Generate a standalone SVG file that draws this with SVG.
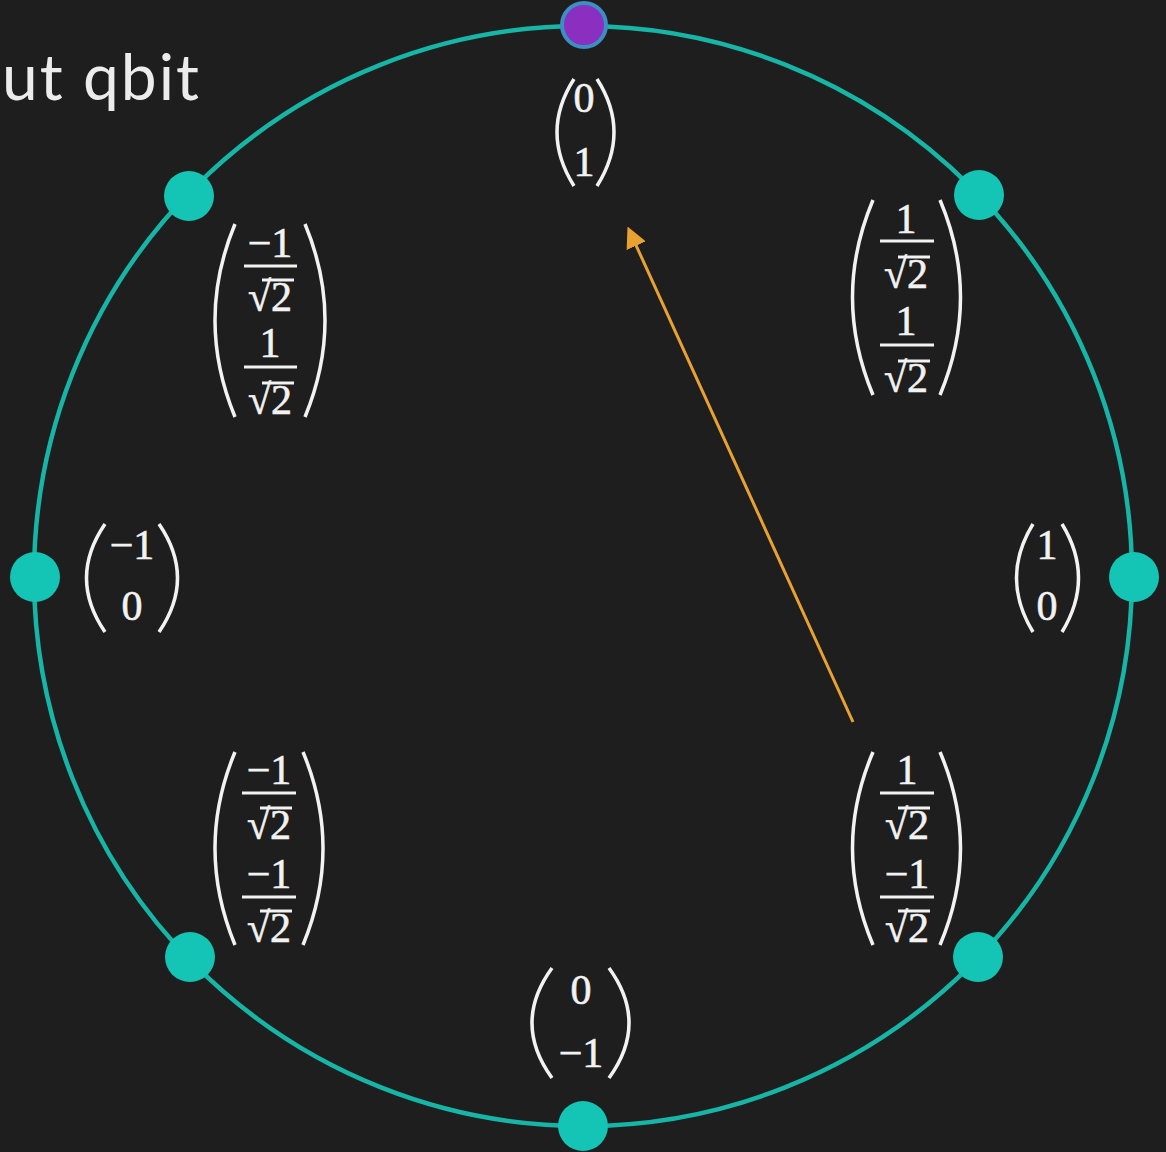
<svg xmlns="http://www.w3.org/2000/svg" width="1166" height="1152" viewBox="0 0 1166 1152">
<defs>
<style>
.num{font-family:"Liberation Serif","DejaVu Serif",serif;fill:#f2f2f2;stroke:#f2f2f2;stroke-width:0.6;text-anchor:middle}
.sm{font-size:42px}
.fr{font-size:42px}
.par{fill:none;stroke:#f2f2f2;stroke-width:3.5}
.bar{stroke:#f2f2f2;stroke-width:3}
.node{fill:#14c4b4}
.title{font-family:"Lato","Inter","Liberation Sans",sans-serif;font-size:64px;fill:#ececec;letter-spacing:2px}
</style>
<marker id="ah" markerWidth="7" markerHeight="7" refX="5" refY="3.5" orient="auto" markerUnits="strokeWidth">
<path d="M0,0 L7,3.5 L0,7 z" fill="#e9a232"/>
</marker>
</defs>
<rect width="1166" height="1152" fill="#1e1e1e"/>
<text class="title" x="2" y="100">ut qbit</text>
<g id="circle"><ellipse cx="583" cy="576" rx="549" ry="550" fill="none" stroke="#17b5a5" stroke-width="4.5"/></g>
<g id="connectors"><line x1="853" y1="722" x2="630" y2="232" stroke="#e9a232" stroke-width="3" marker-end="url(#ah)"/></g>
<g id="n-top"><circle cx="584" cy="25" r="22" fill="#8b2fc0" stroke="#3b8fc2" stroke-width="4"/></g>
<g id="n-ul"><circle class="node" cx="189" cy="196" r="25"/></g>
<g id="n-ur"><circle class="node" cx="979" cy="195" r="25"/></g>
<g id="n-l"><circle class="node" cx="35" cy="577" r="25"/></g>
<g id="n-r"><circle class="node" cx="1134" cy="577" r="25"/></g>
<g id="n-ll"><circle class="node" cx="190" cy="957" r="25"/></g>
<g id="n-lr"><circle class="node" cx="978" cy="957" r="25"/></g>
<g id="n-b"><circle class="node" cx="583" cy="1126" r="25"/></g>

<g id="m-top">
<path class="par" d="M574,79 Q540,132 574,186"/>
<path class="par" d="M597,79 Q631,132 597,186"/>
<text class="num sm" x="584" y="112">0</text>
<text class="num sm" x="584" y="176">1</text>
</g>
<g id="m-r">
<path class="par" d="M1033,524 Q1000,578 1033,632"/>
<path class="par" d="M1062,524 Q1095,578 1062,632"/>
<text class="num sm" x="1047" y="559">1</text>
<text class="num sm" x="1047" y="620">0</text>
</g>
<g id="m-l">
<path class="par" d="M105,524 Q68,578 105,632"/>
<path class="par" d="M159,524 Q196,578 159,632"/>
<text class="num sm" x="132" y="559">−1</text>
<text class="num sm" x="132" y="620">0</text>
</g>
<g id="m-b">
<path class="par" d="M552,968 Q512,1023 552,1078"/>
<path class="par" d="M609,968 Q649,1023 609,1078"/>
<text class="num sm" x="581" y="1004">0</text>
<text class="num sm" x="581" y="1067">−1</text>
</g>

<g id="m-ul">
<path class="par" d="M235,224 Q195,320 235,417"/>
<path class="par" d="M305,224 Q345,320 305,417"/>
<text class="num fr" x="270" y="257">−1</text>
<line class="bar" x1="244" y1="266" x2="297" y2="266"/>
<text class="num fr" x="270" y="311">√2</text>
<line class="bar" x1="262" y1="280" x2="294" y2="280"/>
<text class="num fr" x="270" y="357">1</text>
<line class="bar" x1="244" y1="367" x2="297" y2="367"/>
<text class="num fr" x="270" y="414">√2</text>
<line class="bar" x1="262" y1="383" x2="294" y2="383"/>
</g>
<g id="m-ur">
<path class="par" d="M873,200 Q832,297 873,395"/>
<path class="par" d="M940,200 Q981,297 940,395"/>
<text class="num fr" x="906" y="233">1</text>
<line class="bar" x1="880" y1="241" x2="934" y2="241"/>
<text class="num fr" x="906" y="288">√2</text>
<line class="bar" x1="898" y1="257" x2="930" y2="257"/>
<text class="num fr" x="906" y="335">1</text>
<line class="bar" x1="880" y1="345" x2="934" y2="345"/>
<text class="num fr" x="906" y="392">√2</text>
<line class="bar" x1="898" y1="361" x2="930" y2="361"/>
</g>
<g id="m-ll">
<path class="par" d="M235,752 Q195,848 235,945"/>
<path class="par" d="M303,752 Q343,848 303,945"/>
<text class="num fr" x="269" y="784">−1</text>
<line class="bar" x1="242" y1="793" x2="296" y2="793"/>
<text class="num fr" x="269" y="839">√2</text>
<line class="bar" x1="260" y1="808" x2="292" y2="808"/>
<text class="num fr" x="269" y="888">−1</text>
<line class="bar" x1="242" y1="897" x2="296" y2="897"/>
<text class="num fr" x="269" y="942">√2</text>
<line class="bar" x1="260" y1="911" x2="292" y2="911"/>
</g>
<g id="m-lr">
<path class="par" d="M873,752 Q832,848 873,945"/>
<path class="par" d="M940,752 Q981,848 940,945"/>
<text class="num fr" x="907" y="784">1</text>
<line class="bar" x1="880" y1="793" x2="934" y2="793"/>
<text class="num fr" x="907" y="839">√2</text>
<line class="bar" x1="898" y1="808" x2="930" y2="808"/>
<text class="num fr" x="907" y="888">−1</text>
<line class="bar" x1="880" y1="897" x2="934" y2="897"/>
<text class="num fr" x="907" y="942">√2</text>
<line class="bar" x1="898" y1="911" x2="930" y2="911"/>
</g>
</svg>
